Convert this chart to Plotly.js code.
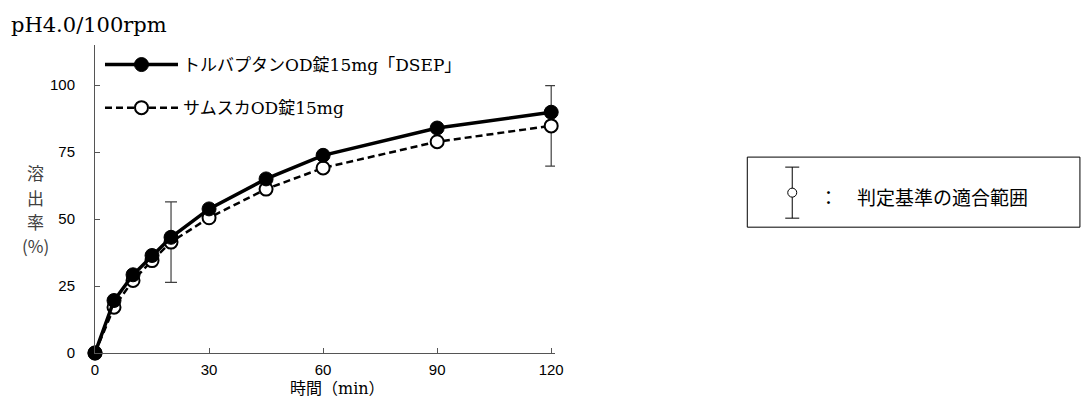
<!DOCTYPE html>
<html><head><meta charset="utf-8">
<script src="https://cdn.plot.ly/plotly-3.0.1.min.js"></script>
<style>body{margin:0;background:#fff}#c{width:1083px;height:397px}</style>
</head><body><div id="c"></div>
<script>
const times = [0, 5, 10, 15, 20, 30, 45, 60, 90, 120];
const testName = "トルバプタンOD錠15mg「DSEP」";
const refName = "サムスカOD錠15mg";
const testVals = [0, 19.6, 29.2, 36.4, 43.2, 53.8, 65.0, 73.8, 84.0, 89.9];
const refVals = [0, 17.1, 27.1, 34.5, 41.4, 50.5, 61.2, 69.1, 78.9, 84.8];
const rangeTimes = [20, 120];
const rangeCenters = [41.4, 84.8];
const rangeHalf = [15, 15];
const xTicks = [0, 30, 60, 90, 120];
const yTicks = [0, 25, 50, 75, 100];
const yTitleChars = ['溶', '出', '率', '(%)'];
const boxLabel = "：　判定基準の適合範囲";

const serif = "'DejaVu Serif', 'Noto Sans CJK JP', serif";
const cjk = "'Noto Sans CJK JP', sans-serif";
const sans = "'Liberation Sans Narrow', 'Liberation Sans', Arial, sans-serif";

const L = 95, R = 555.5, T = 45, B = 352.7;
const px = v => (v - L) / (R - L);
const py = v => (B - v) / (B - T);

const traces = [
  {x: rangeTimes, y: rangeCenters, mode: 'markers', showlegend: false, hoverinfo: 'skip', cliponaxis: false,
   marker: {size: 1, opacity: 0},
   error_y: {type: 'data', array: rangeHalf, visible: true, color: '#404040', thickness: 1.2, width: 6}},
  {x: times, y: refVals, name: refName, mode: 'lines+markers', legendrank: 2, legendgroup: 'b', cliponaxis: false,
   line: {color: '#000', width: 2.5, dash: '7px,4px'},
   marker: {symbol: 'circle', size: 13, color: '#fff', line: {color: '#000', width: 2}}},
  {x: times, y: testVals, name: testName, mode: 'lines+markers', legendrank: 1, legendgroup: 'a', cliponaxis: false,
   line: {color: '#000', width: 3.5},
   marker: {symbol: 'circle', size: 14, color: '#000', line: {color: '#000', width: 1}}}
];

const annotations = [
  {text: 'pH4.0/100rpm', xref: 'paper', yref: 'paper', x: px(9), y: py(25), xanchor: 'left', yanchor: 'middle',
   showarrow: false, font: {family: serif, size: 21, color: '#000'}},
  {text: '時間（min）', xref: 'paper', yref: 'paper', x: px(338), y: py(388), xanchor: 'center', yanchor: 'middle',
   showarrow: false, font: {family: serif, size: 16, color: '#000'}},
  {text: boxLabel, xref: 'paper', yref: 'paper', x: px(818), y: py(196), xanchor: 'left', yanchor: 'middle',
   showarrow: false, font: {family: cjk, size: 19, color: '#000'}}
];
const yTitleY = [172, 197, 221, 245];
yTitleChars.forEach((c, i) => annotations.push({
  text: c, xref: 'paper', yref: 'paper', x: px(35), y: py(yTitleY[i]), xanchor: 'center', yanchor: 'middle',
  showarrow: false, font: {family: cjk, size: 17, color: '#404040'}}));

const layout = {
  width: 1083, height: 397,
  margin: {l: L, r: 1083 - R, t: T, b: 397 - B},
  paper_bgcolor: '#fff', plot_bgcolor: '#fff',
  showlegend: true,
  legend: {x: px(100), y: py(47), xanchor: 'left', yanchor: 'top', bgcolor: 'rgba(0,0,0,0)',
    font: {family: serif, size: 17, color: '#000'}, itemwidth: 73, tracegroupgap: 18},
  xaxis: {range: [0, 121], tickvals: xTicks, ticks: 'inside', ticklen: 5, tickcolor: '#555',
    showgrid: false, zeroline: false, showline: true, linecolor: '#555', linewidth: 1,
    ticklabelstandoff: 3,
    tickfont: {family: sans, size: 15, color: '#000'}},
  yaxis: {range: [0, 115], tickvals: yTicks, ticks: 'inside', ticklen: 5, tickcolor: '#555',
    showgrid: false, zeroline: false, showline: true, linecolor: '#555', linewidth: 1,
    ticklabelstandoff: 16,
    tickfont: {family: sans, size: 15, color: '#000'}},
  annotations: annotations,
  shapes: [
    {type: 'rect', xref: 'paper', yref: 'paper', x0: px(748), x1: px(1081), y0: py(157), y1: py(227),
     line: {color: '#000', width: 1}},
    {type: 'line', xref: 'paper', yref: 'paper', x0: px(793), x1: px(793), y0: py(167), y1: py(218), line: {color: '#000', width: 1}},
    {type: 'line', xref: 'paper', yref: 'paper', x0: px(786), x1: px(800), y0: py(167), y1: py(167), line: {color: '#000', width: 1}},
    {type: 'line', xref: 'paper', yref: 'paper', x0: px(786), x1: px(800), y0: py(218), y1: py(218), line: {color: '#000', width: 1}},
    {type: 'circle', xref: 'paper', yref: 'paper', x0: px(788.5), x1: px(797.5), y0: py(188), y1: py(197), fillcolor: '#fff', line: {color: '#000', width: 1}}
  ]
};
Plotly.newPlot('c', traces, layout, {displayModeBar: false, staticPlot: true});
</script></body></html>
